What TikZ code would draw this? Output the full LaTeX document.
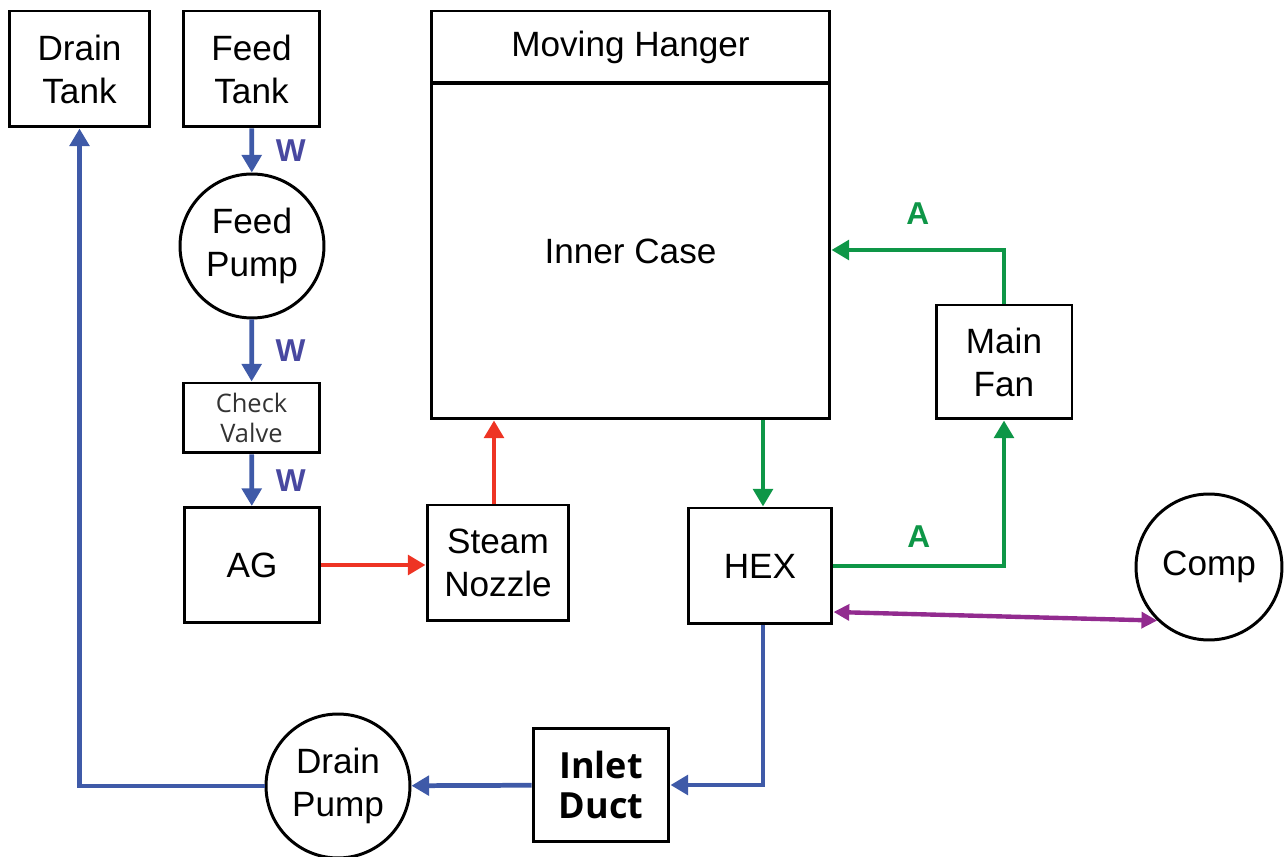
\documentclass[tikz,border=0pt]{standalone}
\usepackage{fontspec}
\setmainfont{Liberation Sans}
\newfontfamily\segoe{Open Sans}
\usetikzlibrary{arrows.meta}
\definecolor{wblue}{RGB}{63,90,168}
\definecolor{wlab}{RGB}{72,72,160}
\definecolor{agreen}{RGB}{14,150,71}
\definecolor{sred}{RGB}{238,52,36}
\definecolor{cpurple}{RGB}{146,43,143}
\begin{document}
\begin{tikzpicture}[x=0.02cm,y=-0.02cm,
    blk/.style={draw,line width=1.7pt,inner sep=0pt,align=center,
      font=\fontsize{20}{24.5}\selectfont},
    rnd/.style={blk,circle,minimum size=2.88cm},
    flow/.style={line width=2.7pt,-{Triangle[length=10pt,width=11pt]}},
    lab/.style={font=\bfseries\fontsize{18}{20}\selectfont}]
  \useasboundingbox (0,0) rectangle (1286,857);
  \node[blk,minimum width=2.82cm,minimum height=2.32cm] (dtank) at (79.5,69) {Drain\\Tank};
  \node[blk,minimum width=2.74cm,minimum height=2.32cm] (ftank) at (251.5,69) {Feed\\Tank};
  \node[rnd] (fpump) at (252,246) {Feed\\Pump};
  \node[blk,minimum width=2.74cm,minimum height=1.4cm,text=black!80,
    font=\segoe\fontsize{14.5}{17.5}\selectfont] (valve) at (251.5,418) {Check\\Valve};
  \node[blk,minimum width=2.72cm,minimum height=2.3cm] (ag) at (252,565) {AG};
  \node[blk,minimum width=2.84cm,minimum height=2.32cm] (nozzle) at (498,563) {Steam\\Nozzle};
  \node[blk,minimum width=7.98cm,minimum height=1.44cm] (hanger) at (630.5,47) {Moving Hanger};
  \node[blk,minimum width=7.98cm,minimum height=6.72cm] (inner) at (630.5,251) {Inner Case};
  \node[blk,minimum width=2.72cm,minimum height=2.28cm] (fan) at (1004,362) {Main\\Fan};
  \node[blk,minimum width=2.88cm,minimum height=2.32cm] (hex) at (760,566) {HEX};
  \node[rnd,minimum size=2.92cm] (comp) at (1209,567) {Comp};
  \node[blk,minimum width=2.72cm,minimum height=2.28cm,
    font=\segoe\bfseries\fontsize{20.5}{22.7}\selectfont] (duct) at (601,785) {Inlet\\Duct};
  \node[rnd] (dpump) at (338,786) {Drain\\Pump};
  \draw[flow,wblue] (ftank) -- (fpump) node[midway,right=9pt,lab,text=wlab] {W};
  \draw[flow,wblue] (fpump) -- (valve) node[midway,right=9pt,lab,text=wlab] {W};
  \draw[flow,wblue] (valve) -- (ag) node[midway,right=9pt,lab,text=wlab] {W};
  \draw[flow,sred] (ag) -- (nozzle.west |- ag);
  \draw[flow,sred] (nozzle.north -| 494,0) -- (inner.south -| 494,0);
  \draw[flow,agreen] (inner.south -| 763,0) -- (hex.north -| 763,0);
  \draw[flow,agreen] (hex) -| (fan) node[pos=0.25,above=6pt,lab,text=agreen] {A};
  \draw[flow,agreen] (fan) |- (inner.east |- 0,250) node[pos=0.75,above=10pt,lab,text=agreen] {A};
  \draw[line width=2.5pt,cpurple,{Triangle[length=9pt,width=9pt]}-{Triangle[length=9pt,width=9pt]}]
    ([yshift=-0.92cm]hex.east) -- (comp.226);
  \draw[flow,wblue] (hex.south -| 763,0) |- (duct);
  \draw[flow,wblue] (duct) -- (dpump);
  \draw[flow,wblue] (dpump) -| (dtank);
\end{tikzpicture}
\end{document}
